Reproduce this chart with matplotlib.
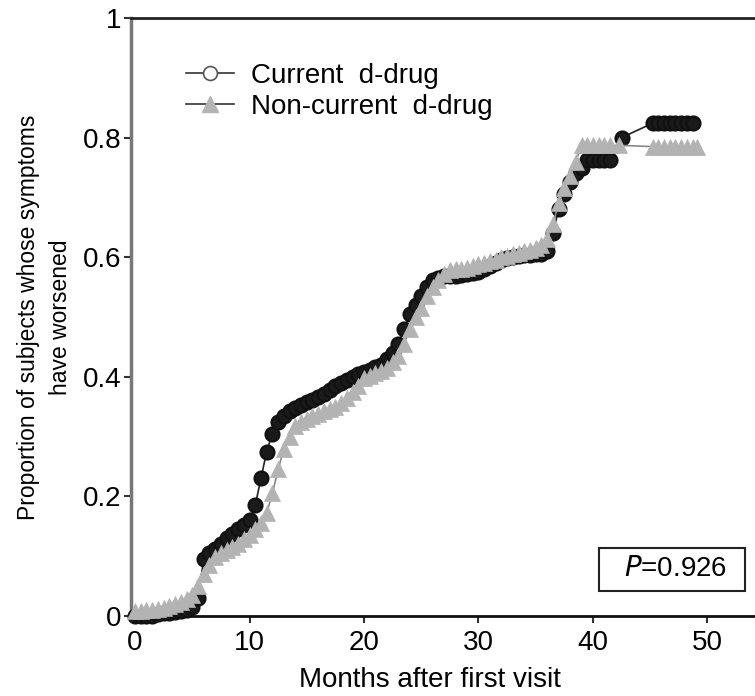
import matplotlib
matplotlib.use("Agg")
import matplotlib.pyplot as plt
from matplotlib.lines import Line2D
from matplotlib.patches import Rectangle

plt.rcParams['font.family'] = ['Liberation Sans', 'DejaVu Sans']

# months after first visit (sampling of the curves)
months = [0, 0.5, 1, 1.5, 2, 2.5, 3, 3.5, 4, 4.5, 5, 5.5, 6, 6.5, 7, 7.5, 8, 8.5, 9, 9.5,
          10, 10.5, 11, 11.5, 12, 12.5, 13, 13.5, 14, 14.5, 15, 15.5, 16, 16.5, 17, 17.5,
          18, 18.5, 19, 19.5, 20, 20.5, 21, 21.5, 22, 22.5, 23, 23.5, 24, 24.5, 25, 25.5,
          26, 26.5, 27, 27.5, 28, 28.5, 29, 29.5, 30, 30.5, 31, 31.5, 32, 32.5, 33, 33.5,
          34, 34.5, 35, 35.5, 36, 36.5, 37, 37.5, 38, 38.5, 39, 39.5, 40, 40.5, 41, 41.5]

current = [0.0, 0.0, 0.0, 0.0, 0.003, 0.005, 0.005, 0.006, 0.008, 0.010, 0.015, 0.030,
           0.095, 0.105, 0.112, 0.120, 0.130, 0.137, 0.145, 0.152, 0.160, 0.185, 0.230,
           0.275, 0.305, 0.325, 0.335, 0.342, 0.348, 0.353, 0.358, 0.362, 0.366, 0.372,
           0.378, 0.384, 0.390, 0.395, 0.400, 0.404, 0.408, 0.412, 0.416, 0.420, 0.430,
           0.440, 0.455, 0.480, 0.505, 0.520, 0.535, 0.550, 0.562, 0.566, 0.568, 0.568,
           0.568, 0.570, 0.572, 0.574, 0.576, 0.580, 0.585, 0.590, 0.595, 0.598, 0.600,
           0.602, 0.603, 0.604, 0.605, 0.606, 0.610, 0.640, 0.680, 0.705, 0.725, 0.740,
           0.750, 0.762, 0.762, 0.762, 0.762, 0.762]
current_tail_months = [42.5, 45.2, 45.7, 46.2, 46.7, 47.2, 47.7, 48.2, 48.7]
current_tail = [0.800, 0.824, 0.824, 0.824, 0.824, 0.824, 0.824, 0.824, 0.824]

noncurrent = [0.008, 0.008, 0.010, 0.010, 0.012, 0.014, 0.016, 0.020, 0.024, 0.028, 0.035,
              0.050, 0.070, 0.085, 0.098, 0.105, 0.110, 0.115, 0.120, 0.128, 0.135, 0.145,
              0.155, 0.172, 0.205, 0.245, 0.280, 0.300, 0.318, 0.325, 0.330, 0.334, 0.338,
              0.342, 0.346, 0.350, 0.357, 0.365, 0.375, 0.385, 0.398, 0.402, 0.406, 0.410,
              0.415, 0.425, 0.435, 0.455, 0.480, 0.500, 0.515, 0.535, 0.550, 0.562, 0.572,
              0.578, 0.580, 0.580, 0.582, 0.585, 0.588, 0.590, 0.593, 0.596, 0.600, 0.602,
              0.605, 0.607, 0.610, 0.612, 0.615, 0.620, 0.630, 0.655, 0.690, 0.715, 0.735,
              0.760, 0.787, 0.787, 0.787, 0.787, 0.787, 0.787]
noncurrent_tail_months = [42.3, 45.2, 45.7, 46.2, 46.7, 47.2, 47.7, 48.2, 48.7, 49.1]
noncurrent_tail = [0.787, 0.785, 0.785, 0.785, 0.785, 0.785, 0.785, 0.785, 0.785, 0.785]

x_ticks = [0, 10, 20, 30, 40, 50]
y_ticks = [0, 0.2, 0.4, 0.6, 0.8, 1]
y_labels = ['0', '0.2', '0.4', '0.6', '0.8', '1']

fig = plt.figure(figsize=(7.55, 6.96), dpi=100)
ax = fig.add_axes([131/755, 80/696, 1 - 131/755, 598/696])

cur_x = months + current_tail_months
cur_y = current + current_tail
non_x = months + noncurrent_tail_months
non_y = noncurrent + noncurrent_tail

ax.plot(cur_x, cur_y, color='#222222', lw=1.2, marker='o', ms=10,
        mfc='#1a1a1a', mec='#111111', mew=1.6, zorder=3, clip_on=False)
ax.plot(non_x, non_y, color='#888888', lw=1.2, marker='^', ms=12,
        mfc='#b3b3b3', mec='#b3b3b3', mew=0.5, zorder=4, clip_on=False)

ax.set_xlim(-0.35, 54.15)
ax.set_ylim(0, 1)
ax.set_xticks(x_ticks)
ax.set_yticks(y_ticks)
ax.set_yticklabels(y_labels)
ax.tick_params(axis='both', labelsize=20, length=5, width=1.5, color='#333333')
ax.tick_params(axis='x', pad=5)
ax.tick_params(axis='y', pad=2)

ax.spines['right'].set_visible(False)
ax.spines['left'].set_color('#777777')
ax.spines['left'].set_linewidth(2.5)
ax.spines['bottom'].set_linewidth(2)
ax.spines['top'].set_linewidth(2)
ax.spines['bottom'].set_color('#111111')
ax.spines['top'].set_color('#222222')

ax.set_xlabel('Months after first visit', fontsize=20)
ax.xaxis.set_label_coords((430 - 131) / 624, -0.085)
ax.set_ylabel('Proportion of subjects whose symptoms\nhave worsened', fontsize=16.5,
              labelpad=8, linespacing=1.5)

handles = [
    Line2D([], [], color='#333333', lw=1.2, marker='o', ms=10, mfc='white', mec='#555555', mew=1.2),
    Line2D([], [], color='#333333', lw=1.2, marker='^', ms=11, mfc='#b5b5b5', mec='#b5b5b5'),
]
ax.legend(handles, ['Current  d-drug', 'Non-current  d-drug'], loc='upper left',
          bbox_to_anchor=(0.07, 0.944), frameon=False, fontsize=20, handlelength=1.75,
          handletextpad=0.6, labelspacing=0.2, borderaxespad=0)

ax.add_patch(Rectangle((0.75, 0.042), 0.234, 0.072, transform=ax.transAxes,
                       fc='white', ec='#222222', lw=1.5, zorder=5))
ax.text(0.872, 0.078, r'$\it{P}$=0.926', transform=ax.transAxes, fontsize=20,
        ha='center', va='center', zorder=6)

fig.savefig('out.png', dpi=100)
